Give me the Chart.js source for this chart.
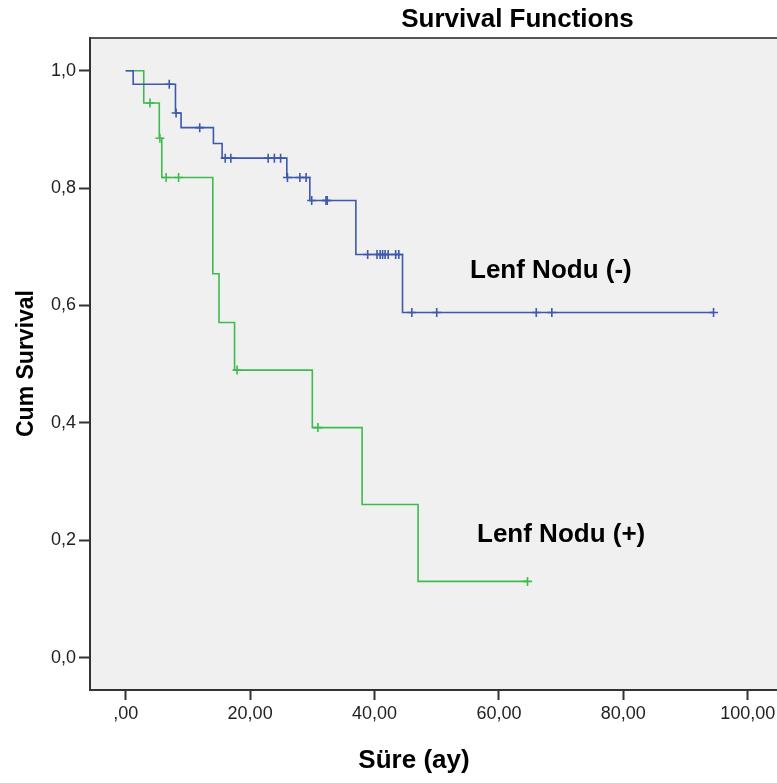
<!DOCTYPE html>
<html>
<head>
<meta charset="utf-8">
<script src="https://cdn.jsdelivr.net/npm/chart.js@4.4.1/dist/chart.umd.min.js"></script>
<style>
  html, body { margin: 0; padding: 0; background: #ffffff; overflow: hidden; }
  #wrap { width: 777px; height: 783px; position: relative; }
</style>
</head>
<body>
<div id="wrap"><canvas id="c"></canvas></div>
<script>
// ---- Data ----
// Lenf Nodu (-) : event times (months) and survival after each step
const negTimes = [0, 1.2, 8.0, 8.9, 14.1, 15.5, 25.9, 29.6, 37.0, 44.5, 94.5];
const negSurv  = [1.0, 0.977, 0.928, 0.903, 0.876, 0.851, 0.818, 0.779, 0.687, 0.588, 0.588];
const negCensored = [7.0, 8.1, 11.9, 16.0, 16.9, 22.9, 23.9, 24.9, 26.0, 28.0, 29.0, 29.9, 32.2, 32.4,
                     38.9, 40.4, 40.9, 41.3, 41.7, 42.2, 43.4, 43.9, 46.0, 50.0, 66.0, 68.5, 94.5];

// Lenf Nodu (+)
const posTimes = [0, 2.9, 5.4, 5.8, 14.0, 15.0, 17.5, 30.0, 38.0, 47.0, 64.6];
const posSurv  = [1.0, 0.945, 0.885, 0.818, 0.654, 0.571, 0.490, 0.392, 0.261, 0.130, 0.130];
const posCensored = [3.9, 5.5, 6.5, 8.5, 17.9, 30.9, 64.6];

const xTickValues = [0, 20, 40, 60, 80, 100];
const yTickValues = [0, 0.2, 0.4, 0.6, 0.8, 1.0];

const seriesNames = ['Lenf Nodu (-)', 'Lenf Nodu (+)'];
const chartTitle = 'Survival Functions';
const xTitle = 'Süre (ay)';
const yTitle = 'Cum Survival';

// ---- helpers ----
function stepPoints(times, surv) {
  return times.map((t, i) => ({ x: t, y: surv[i] }));
}
function survivalAt(times, surv, t) {
  let s = surv[0];
  for (let i = 0; i < times.length; i++) { if (times[i] <= t + 1e-9) s = surv[i]; }
  return s;
}
function censorPoints(times, surv, cens) {
  return cens.map(t => ({ x: t, y: survivalAt(times, surv, t) }));
}

const BLUE = '#3e58ac';
const GREEN = '#3dbb4e';
const FONT = "'Liberation Sans', Arial, sans-serif";

const decorPlugin = {
  id: 'decor',
  beforeDraw(chart) {
    const { ctx, chartArea: a } = chart;
    ctx.save();
    ctx.fillStyle = '#f0f0f0';
    ctx.fillRect(a.left, a.top, a.right - a.left, a.bottom - a.top);
    ctx.strokeStyle = '#555555';
    ctx.lineWidth = 2;
    ctx.beginPath();
    ctx.moveTo(a.left, a.top);
    ctx.lineTo(a.right, a.top);
    ctx.stroke();
    ctx.restore();
  },
  afterDraw(chart) {
    const { ctx } = chart;
    ctx.save();
    ctx.fillStyle = '#000000';
    ctx.textBaseline = 'alphabetic';
    ctx.font = 'bold 26px ' + FONT;
    ctx.textAlign = 'center';
    ctx.fillText(chartTitle, 517.5, 27);
    ctx.fillText(xTitle, 414, 768);
    ctx.textAlign = 'left';
    ctx.fillText(seriesNames[0], 470, 278);
    ctx.fillText(seriesNames[1], 477, 542);
    ctx.translate(33, 363.5);
    ctx.rotate(-Math.PI / 2);
    ctx.textAlign = 'center';
    ctx.font = 'bold 23px ' + FONT;
    ctx.fillText(yTitle, 0, 0);
    ctx.restore();
  }
};

new Chart(document.getElementById('c'), {
  type: 'scatter',
  data: {
    datasets: [
      { label: seriesNames[0], data: stepPoints(negTimes, negSurv), showLine: true, stepped: true,
        borderColor: BLUE, borderWidth: 1.6, pointRadius: 0, fill: false },
      { label: seriesNames[0] + ' censored', data: censorPoints(negTimes, negSurv, negCensored),
        pointStyle: 'cross', pointRadius: 4.5, borderColor: BLUE, backgroundColor: BLUE, borderWidth: 1.6 },
      { label: seriesNames[1], data: stepPoints(posTimes, posSurv), showLine: true, stepped: true,
        borderColor: GREEN, borderWidth: 1.6, pointRadius: 0, fill: false },
      { label: seriesNames[1] + ' censored', data: censorPoints(posTimes, posSurv, posCensored),
        pointStyle: 'cross', pointRadius: 4.5, borderColor: GREEN, backgroundColor: GREEN, borderWidth: 1.6 }
    ]
  },
  options: {
    responsive: true,
    maintainAspectRatio: false,
    animation: false,
    events: [],
    layout: { autoPadding: false, padding: { top: 38, left: 0, right: 0, bottom: 0 } },
    plugins: { legend: { display: false }, tooltip: { enabled: false }, title: { display: false } },
    scales: {
      x: {
        type: 'linear', min: -5.74, max: 104.7,
        afterBuildTicks: s => { s.ticks = xTickValues.map(v => ({ value: v })); },
        afterFit: s => { s.height = 93; s.paddingLeft = 0; s.paddingRight = 0; },
        ticks: {
          autoSkip: false, maxRotation: 0, padding: 3, color: '#222222',
          font: { family: FONT, size: 18 },
          callback: v => (v === 0 ? ',00' : v.toFixed(2).replace('.', ','))
        },
        grid: { display: true, drawOnChartArea: false, drawTicks: true, tickLength: 10, tickWidth: 2, tickColor: '#333333' },
        border: { display: true, color: '#333333', width: 2 }
      },
      y: {
        type: 'linear', min: -0.055, max: 1.0557,
        afterBuildTicks: s => { s.ticks = yTickValues.map(v => ({ value: v })); },
        afterFit: s => { s.width = 90; s.paddingTop = 0; s.paddingBottom = 0; },
        ticks: {
          autoSkip: false, padding: 3, color: '#222222',
          font: { family: FONT, size: 18 },
          callback: v => v.toFixed(1).replace('.', ',')
        },
        grid: { display: true, drawOnChartArea: false, drawTicks: true, tickLength: 11, tickWidth: 2, tickColor: '#333333' },
        border: { display: true, color: '#333333', width: 2 }
      }
    }
  },
  plugins: [decorPlugin]
});
</script>
</body>
</html>
